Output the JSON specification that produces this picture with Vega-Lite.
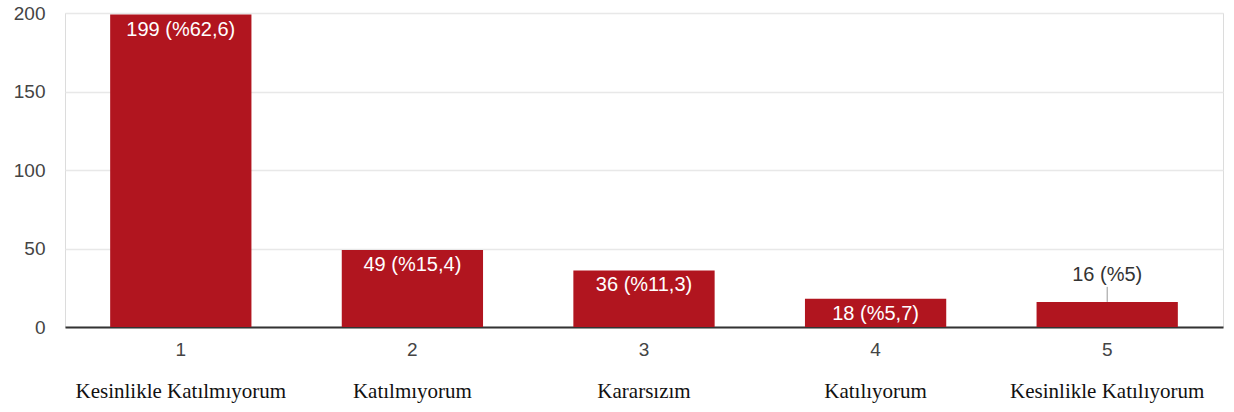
{
  "$schema": "https://vega.github.io/schema/vega-lite/v6.json",
  "width": 1158,
  "height": 314,
  "autosize": "none",
  "padding": {"left": 65, "top": 13, "right": 11, "bottom": 85},
  "background": "white",
  "config": {
    "view": {"stroke": "#dcdcdc", "strokeWidth": 1},
    "axis": {"labelFont": "Liberation Sans", "labelColor": "#444444", "labelFontSize": 19, "titleFont": "Liberation Sans"},
    "text": {"font": "Liberation Sans", "fontSize": 20}
  },
  "data": {
    "values": [
      {"num": 1, "label": "Kesinlikle Katılmıyorum", "count": 199, "text": "199 (%62,6)"},
      {"num": 2, "label": "Katılmıyorum", "count": 49, "text": "49 (%15,4)"},
      {"num": 3, "label": "Kararsızım", "count": 36, "text": "36 (%11,3)"},
      {"num": 4, "label": "Katılıyorum", "count": 18, "text": "18 (%5,7)"},
      {"num": 5, "label": "Kesinlikle Katılıyorum", "count": 16, "text": "16 (%5)"}
    ]
  },
  "layer": [
    {
      "encoding": {
        "x": {
          "field": "num",
          "type": "ordinal",
          "scale": {"paddingInner": 0.39, "paddingOuter": 0.195},
          "axis": {
            "title": null,
            "labelAngle": 0,
            "ticks": false,
            "domain": true,
            "domainColor": "#333333",
            "domainWidth": 2,
            "labelPadding": 13,
            "grid": false
          }
        },
        "y": {
          "field": "count",
          "type": "quantitative",
          "scale": {"domain": [0, 200], "nice": false},
          "axis": {
            "title": null,
            "values": [0, 25, 50, 75, 100, 125, 150, 175, 200],
            "labelExpr": "datum.value % 50 === 0 ? datum.label : ''",
            "ticks": false,
            "domain": false,
            "labelPadding": 20,
            "gridColor": {"condition": {"test": "datum.value % 50 === 0", "value": "#e8e8e8"}, "value": "#f4f4f4"},
            "gridWidth": 1.5
          }
        }
      },
      "layer": [
        {"mark": {"type": "bar", "color": "#b1151f"}},
        {
          "transform": [{"filter": "datum.count >= 17"}],
          "mark": {"type": "text", "color": "white", "baseline": "top", "dy": 5},
          "encoding": {"text": {"field": "text"}}
        },
        {
          "transform": [{"filter": "datum.count < 17"}],
          "mark": {"type": "text", "color": "#333333", "baseline": "alphabetic", "dy": -21},
          "encoding": {"text": {"field": "text"}}
        },
        {
          "transform": [{"filter": "datum.count < 17"}],
          "mark": {"type": "rule", "color": "#999999", "strokeWidth": 1, "y2Offset": -15},
          "encoding": {"y2": {"field": "count"}}
        }
      ]
    },
    {
      "mark": {"type": "bar", "opacity": 0},
      "encoding": {
        "x": {
          "field": "label",
          "type": "ordinal",
          "sort": {"field": "num"},
          "scale": {"paddingInner": 0.39, "paddingOuter": 0.195},
          "axis": {
            "orient": "bottom",
            "offset": 40,
            "title": null,
            "labelAngle": 0,
            "ticks": false,
            "domain": false,
            "grid": false,
            "labelFont": "Liberation Serif",
            "labelFontSize": 21,
            "labelColor": "#111111",
            "labelPadding": 13,
            "labelDx": -22,
            "labelLimit": 0
          }
        },
        "y": {"field": "count", "type": "quantitative"}
      }
    }
  ],
  "resolve": {"scale": {"x": "independent"}, "axis": {"x": "independent"}}
}
